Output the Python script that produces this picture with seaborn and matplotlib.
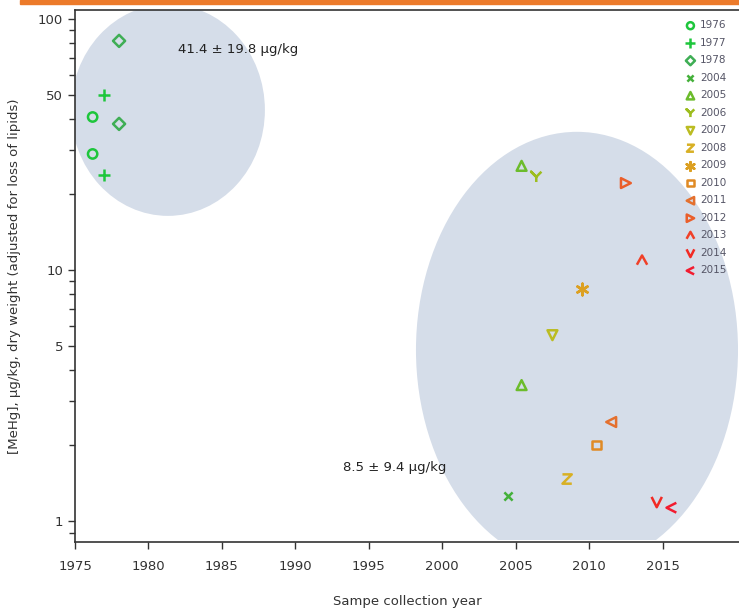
import numpy as np
import pandas as pd
import seaborn as sns
import matplotlib.pyplot as plt
from matplotlib.patches import Ellipse, Rectangle

sns.set_style("white")
plt.rcParams['font.family'] = ['DejaVu Sans']

# one entry per point
years = [1976, 1976, 1977, 1977, 1978, 1978, 2004, 2005, 2005, 2006, 2007,
         2008, 2009, 2010, 2011, 2012, 2013, 2014, 2015]
x_pos = [1976.2, 1976.2, 1977.0, 1977.0, 1978.0, 1978.0, 2004.5, 2005.4, 2005.4,
         2006.4, 2007.5, 2008.5, 2009.5, 2010.5, 2011.5, 2012.5, 2013.6, 2014.6, 2015.6]
mehg = [40.7, 29.0, 50.0, 23.9, 81.8, 38.2, 1.26, 26.0, 3.48, 23.5, 5.5,
        1.47, 8.4, 2.01, 2.48, 22.2, 10.9, 1.19, 1.13]

legend_years = [1976, 1977, 1978, 2004, 2005, 2006, 2007, 2008, 2009, 2010,
                2011, 2012, 2013, 2014, 2015]
colors = ['#1ec63c', '#1ec63c', '#3fae55', '#44b03a', '#6cbc2c', '#9dbd1e',
          '#bbbc22', '#d8b024', '#dca022', '#e08a24', '#e4702e', '#ea5e2a',
          '#f04028', '#f22a24', '#f21c30']

# open polyline marker shapes
Y_SHAPE = [(0, -1), (0, 0), (-1, 1), (0, 0), (1, 1)]
Z_SHAPE = [(-1, 1), (1, 1), (-1, -1), (1, -1)]
CARET = [(-1, -0.8), (0, 1), (1, -0.8)]
VEE = [(-1, 1), (0, -1), (1, 1)]
LESS = [(1, 1), (-1, 0), (1, -1)]
markers = ['o', '+', 'D', 'x', '^', Y_SHAPE, 'v', Z_SHAPE, (6, 2, 0), 's',
           '<', '>', CARET, VEE, LESS]
sizes = [45, 75, 38, 35, 50, 55, 50, 45, 70, 40, 50, 50, 55, 55, 50]

df = pd.DataFrame({'year': years, 'x': x_pos, 'mehg': mehg})

fig = plt.figure(figsize=(7.39, 6.13), dpi=100)
ax = fig.add_axes([75 / 739, 71 / 613, 664 / 739, 532 / 613])

# orange bar at the top of the picture
fig.patches.append(Rectangle((20 / 739, 1 - 4 / 613), 1, 4 / 613,
                             transform=fig.transFigure, color='#ec7a2a', zorder=0))

ell_col = '#d5dde9'
ax.add_patch(Ellipse((0.140, 0.812), 0.292, 0.398, transform=ax.transAxes,
                     color=ell_col, zorder=0, lw=0))
big = Ellipse((0.756, 0.361), 0.485, 0.82, transform=ax.transAxes,
              color=ell_col, zorder=0, lw=0)
ax.add_patch(big)
clip = Rectangle((0, 0.004), 1, 1, transform=ax.transAxes, fc='none', ec='none')
ax.add_patch(clip)
big.set_clip_path(clip)

line_markers = {'+', 'x'}
for yr, m, c, sz in zip(legend_years, markers, colors, sizes):
    sub = df[df['year'] == yr]
    if isinstance(m, str) and m in line_markers or isinstance(m, tuple):
        sns.scatterplot(data=sub, x='x', y='mehg', marker=m, s=sz, ax=ax,
                        color=c, linewidth=1.8, label=str(yr), zorder=3)
    else:
        sns.scatterplot(data=sub, x='x', y='mehg', marker=m, s=sz, ax=ax,
                        facecolors='none', edgecolor=c, linewidth=1.8,
                        label=str(yr), zorder=3)

ax.set_yscale('log')
ax.set_xlim(1975, 2020.2)
ax.set_ylim(0.825, 108.6)
ax.set_xticks([1975, 1980, 1985, 1990, 1995, 2000, 2005, 2010, 2015])
ax.set_yticks([1, 5, 10, 50, 100])
ax.set_yticklabels(['1', '5', '10', '50', '100'])
ax.tick_params(axis='both', which='major', direction='out', length=5, width=1,
               colors='#333333', labelsize=9.5, left=True, bottom=True)
ax.tick_params(axis='y', which='minor', direction='out', length=4, width=1,
               colors='#333333', left=True)
ax.tick_params(axis='x', pad=8)

for side in ['left', 'bottom', 'top']:
    ax.spines[side].set_color('#333333')
    ax.spines[side].set_linewidth(1.2)
ax.spines['right'].set_visible(False)

ax.set_xlabel('Sampe collection year', fontsize=9.5, color='#333333', labelpad=16)
ax.set_ylabel('[MeHg], µg/kg, dry weight (adjusted for loss of lipids)',
              fontsize=9.5, color='#333333', labelpad=12)

ax.text(0.155, 0.925, '41.4 ± 19.8 µg/kg', transform=ax.transAxes, fontsize=9.5,
        color='#222222', va='center')
ax.text(0.403, 0.14, '8.5 ± 9.4 µg/kg', transform=ax.transAxes, fontsize=9.5,
        color='#222222', va='center')

leg = ax.legend(loc='upper right', bbox_to_anchor=(0.995, 0.998), frameon=False,
                fontsize=7.5, labelspacing=0.72, handletextpad=0.4,
                handlelength=1.0, markerscale=0.75)
for t in leg.get_texts():
    t.set_color('#555566')

fig.savefig('out.png', dpi=100)
